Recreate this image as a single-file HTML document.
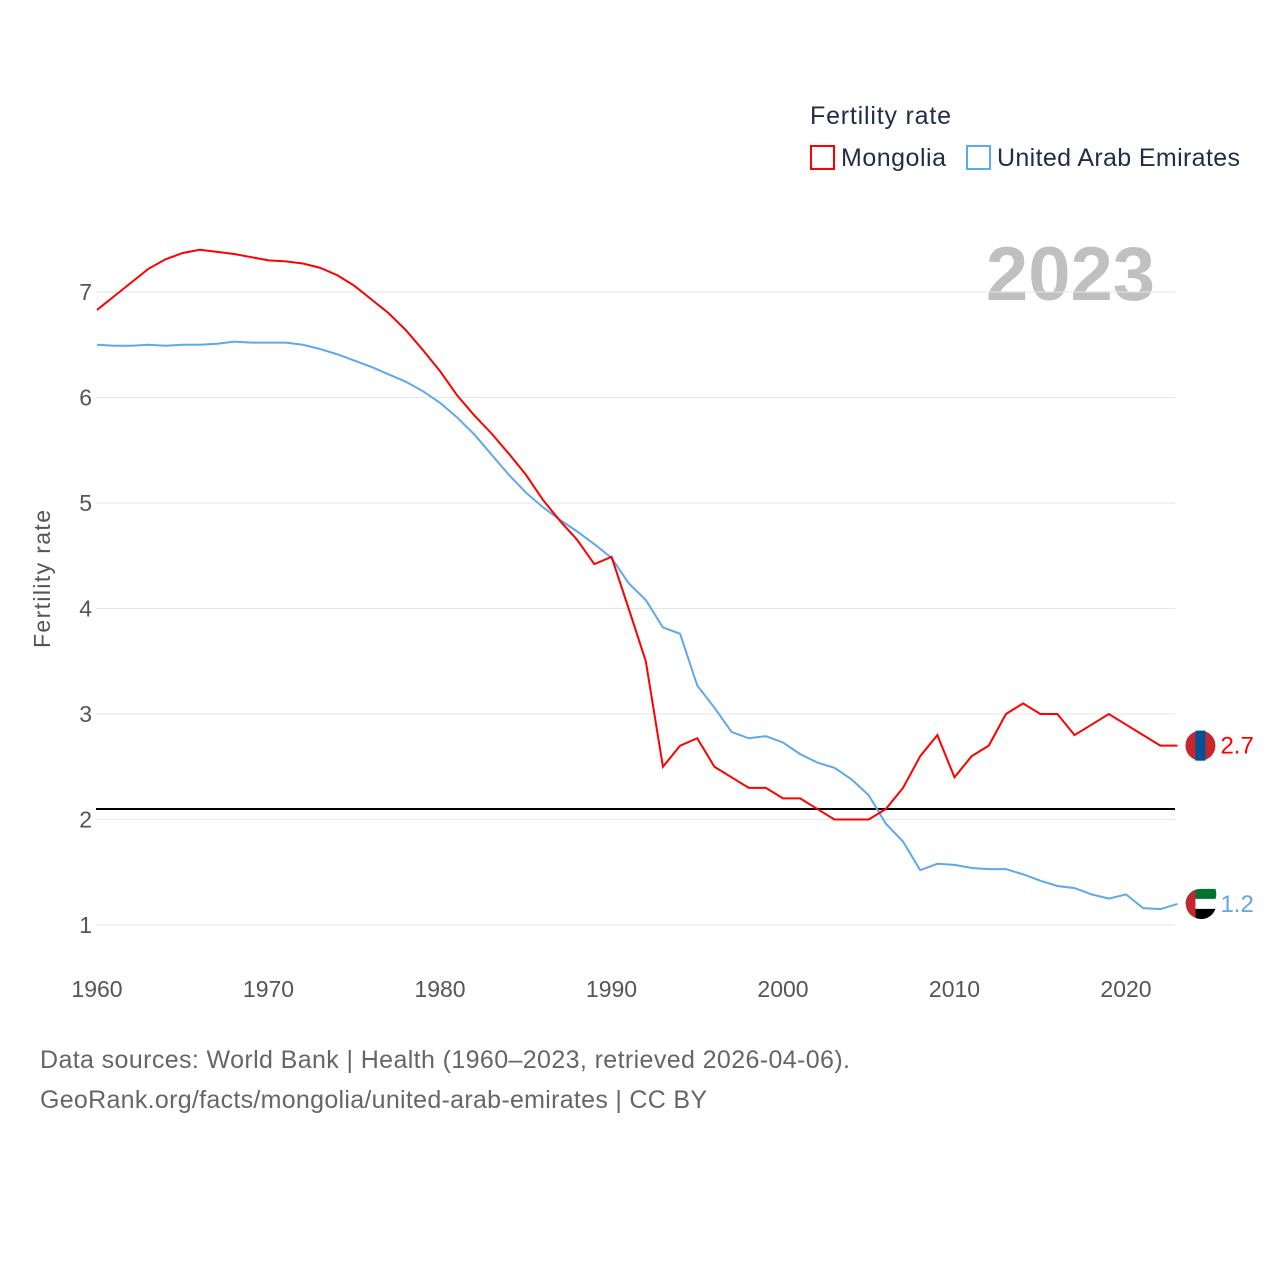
<!DOCTYPE html>
<html><head><meta charset="utf-8"><style>
body{margin:0;background:#fff;font-family:"Liberation Sans",sans-serif}
svg text{font-family:"Liberation Sans",sans-serif}
</style></head><body>
<svg width="1280" height="1280" viewBox="0 0 1280 1280" id="chart">
<text x="810" y="124" font-size="25" fill="#1f2d4a" textLength="141">Fertility rate</text>
<g><rect x="811" y="146" width="23" height="23" fill="none" stroke="#f00" stroke-width="2"/><text x="841" y="166" font-size="25" fill="#1f2d4a" textLength="105">Mongolia</text></g>
<g><rect x="967" y="146" width="23" height="23" fill="none" stroke="#5fa8ec" stroke-width="2"/><text x="997" y="166" font-size="25" fill="#1f2d4a" textLength="243">United Arab Emirates</text></g>
<text x="1155" y="300" font-size="76" font-weight="bold" fill="#c0c0c0" text-anchor="end">2023</text>
<text transform="translate(50,579) rotate(-90)" font-size="23" fill="#555" text-anchor="middle" textLength="138">Fertility rate</text>
<g id="grid"></g><g id="xt"></g><g id="lines"></g>
<text x="40" y="1068" font-size="25" fill="#666" textLength="810">Data sources: World Bank | Health (1960–2023, retrieved 2026-04-06).</text>
<text x="40" y="1108" font-size="25" fill="#666" textLength="667">GeoRank.org/facts/mongolia/united-arab-emirates | CC BY</text>
</svg>
<script>
const years=[];for(let y=1960;y<=2023;y++)years.push(y);
const mongolia=[6.83,6.96,7.09,7.22,7.31,7.37,7.40,7.38,7.36,7.33,7.30,7.29,7.27,7.23,7.16,7.06,6.93,6.80,6.64,6.45,6.25,6.02,5.83,5.66,5.47,5.27,5.03,4.83,4.65,4.42,4.49,4.00,3.50,2.50,2.70,2.77,2.50,2.40,2.30,2.30,2.20,2.20,2.10,2.00,2.00,2.00,2.10,2.30,2.60,2.80,2.40,2.60,2.70,3.00,3.10,3.00,3.00,2.80,2.90,3.00,2.90,2.80,2.70,2.70];
const uae=[6.50,6.49,6.49,6.50,6.49,6.50,6.50,6.51,6.53,6.52,6.52,6.52,6.50,6.46,6.41,6.35,6.29,6.22,6.15,6.06,5.95,5.81,5.65,5.46,5.27,5.10,4.96,4.84,4.73,4.61,4.48,4.24,4.08,3.82,3.76,3.27,3.06,2.83,2.77,2.79,2.73,2.62,2.54,2.49,2.38,2.23,1.96,1.79,1.52,1.58,1.57,1.54,1.53,1.53,1.48,1.42,1.37,1.35,1.29,1.25,1.29,1.16,1.15,1.20];
const yTicks=[1,2,3,4,5,6,7];
const xTicks=[1960,1970,1980,1990,2000,2010,2020];
const replacement=2.1;
const X=y=>97+(y-1960)*17.15, Y=v=>925-(v-1)*105.5;
const NS='http://www.w3.org/2000/svg';
function mk(t,a,p){const e=document.createElementNS(NS,t);for(const k in a)e.setAttribute(k,a[k]);p.appendChild(e);return e;}
const g=document.getElementById('grid');
yTicks.forEach(v=>{const l=mk('line',{x1:96,x2:1175,y1:Y(v),y2:Y(v),stroke:'#e6e6e6','stroke-width':1},g);


const t=mk('text',{x:92,y:Y(v)+8,'font-size':23,fill:'#555','text-anchor':'end'},g);t.textContent=v;

});
const xt=document.getElementById('xt');
xTicks.forEach(v=>{const t=mk('text',{x:X(v),y:997,'font-size':23,fill:'#555','text-anchor':'middle'},xt);t.textContent=v;

});
const L=document.getElementById('lines');
const rl=mk('line',{x1:96,x2:1175,y1:Y(replacement),y2:Y(replacement),stroke:'#000','stroke-width':2},L);


function series(d,c,name){const p=mk('path',{d:d.map((v,i)=>(i?'L':'M')+X(years[i])+','+Y(v)).join(''),fill:'none',stroke:c,'stroke-width':2},L);


const last=d[d.length-1],cx=X(2023)+23,cy=Y(last);
const f=mk('g',{},L);


if(name==='mongolia'){mk('circle',{cx,cy,r:15,fill:'#c4272f'},f);mk('rect',{x:cx-5,y:cy-15,width:10,height:30,fill:'#015197'},f);}
else{mk('circle',{cx,cy,r:15,fill:'#fff'},f);mk('path',{d:`M${cx-15},${cy} A15,15 0 0 1 ${cx},${cy-15} L${cx+15},${cy-15} A15,15 0 0 1 ${cx+15},${cy-5} L${cx-5},${cy-5}Z`,fill:'#00732f'},f);mk('path',{d:`M${cx-5},${cy+5} L${cx+15},${cy+5} A15,15 0 0 1 ${cx-5},${cy+14}Z`,fill:'#000'},f);mk('path',{d:`M${cx-5},${cy-14} A15,15 0 0 0 ${cx-5},${cy+14}Z`,fill:'#c4272f'},f);}
const t=mk('text',{x:cx+20,y:cy+8,'font-size':24,fill:c},L);t.textContent=last.toFixed(1);

}
series(uae,'#5fa8ec','uae');
series(mongolia,'#f00','mongolia');
</script>
</body></html>
